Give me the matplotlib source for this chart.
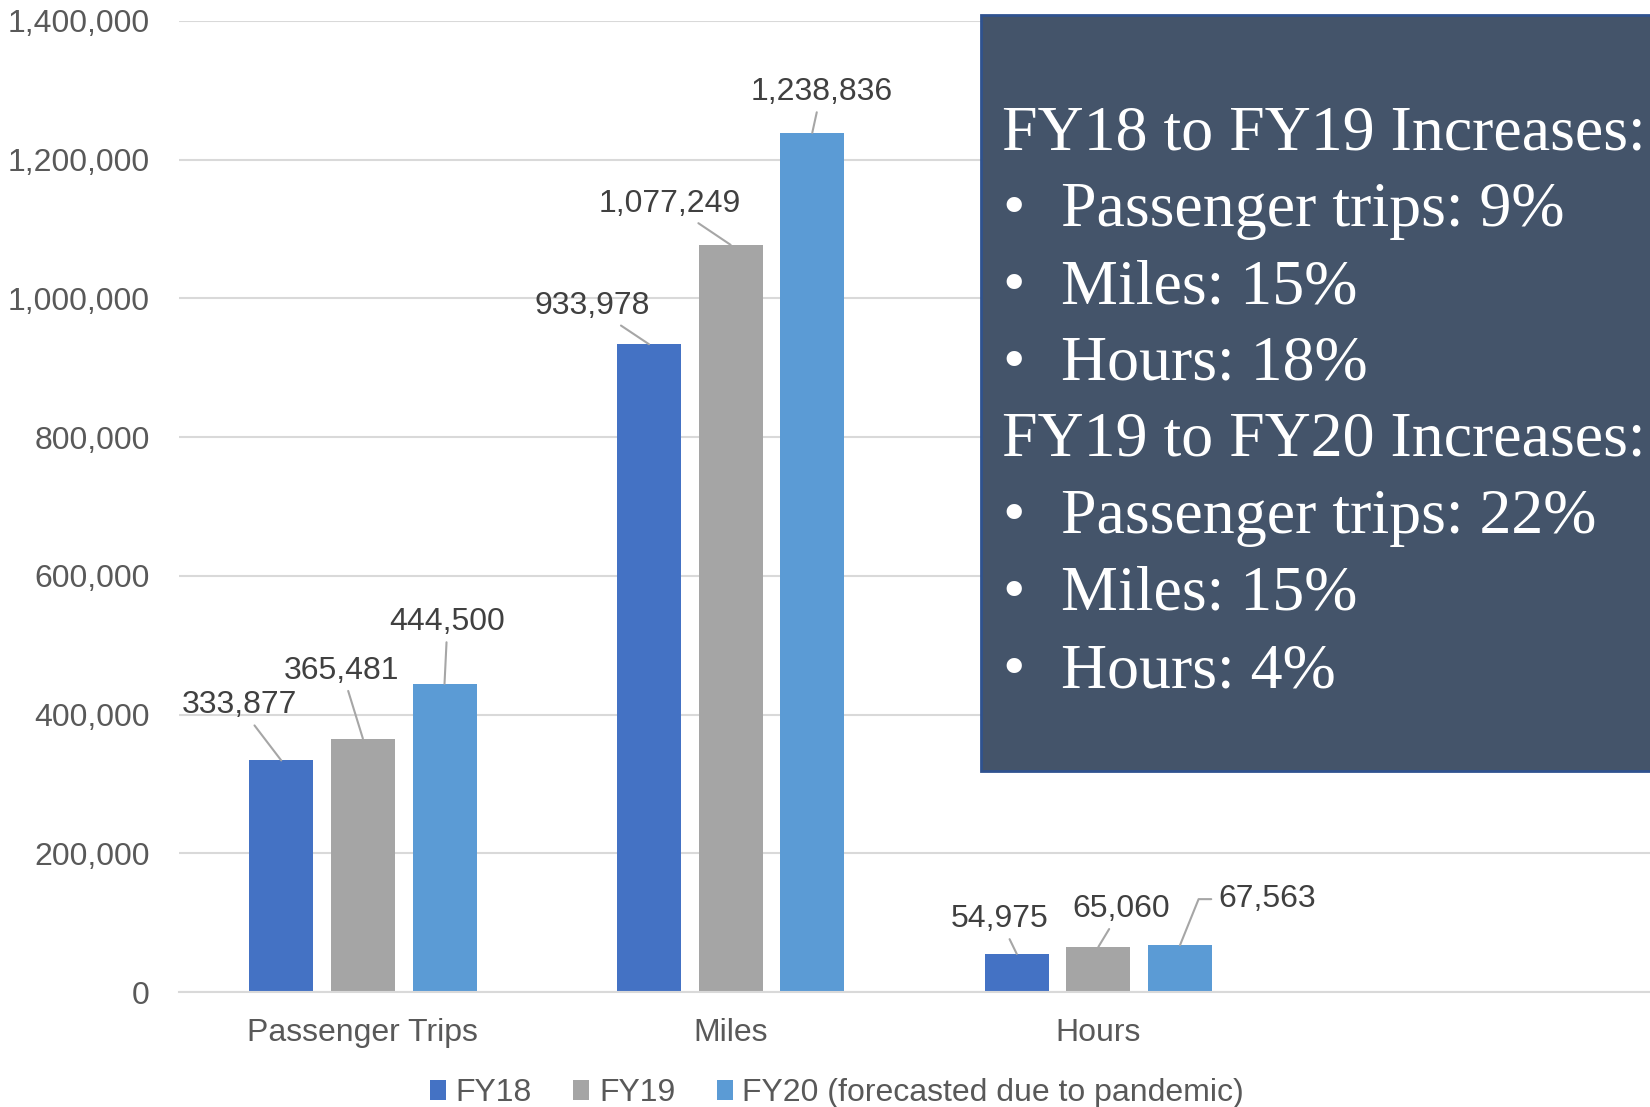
import matplotlib
matplotlib.use("Agg")
import matplotlib.pyplot as plt
from matplotlib.patches import Rectangle, Patch
from matplotlib.ticker import FuncFormatter

# data
categories = ["Passenger Trips", "Miles", "Hours"]
series_names = ["FY18", "FY19", "FY20 (forecasted due to pandemic)"]
fy18 = [333877, 933978, 54975]
fy19 = [365481, 1077249, 65060]
fy20 = [444500, 1238836, 67563]

box_lines = ["FY18 to FY19 Increases:",
             "Passenger trips: 9%", "Miles: 15%", "Hours: 18%",
             "FY19 to FY20 Increases:",
             "Passenger trips: 22%", "Miles: 15%", "Hours: 4%"]

colors = ["#4472C4", "#A5A5A5", "#5B9BD5"]

# label offsets in pixels (dx, dy) from bar top, per series/category
label_offsets = [
    [(-42, 55), (-57, 38), (-17, 35)],
    [(-21, 68), (-61, 41), (23, 38)],
    [(3, 62), (9, 41), (87, 46)],
]

W, H = 1650, 1107
fig = plt.figure(figsize=(W / 100, H / 100), dpi=100)
ax = fig.add_axes([179 / W, 1 - 992 / H, 1 - 179 / W, (992 - 21) / H])

series = [fy18, fy19, fy20]
step = 0.222
width = 0.174
for j, vals in enumerate(series):
    xs = [i + (j - 1) * step for i in range(len(categories))]
    ax.bar(xs, vals, width=width, color=colors[j], zorder=3)
    for i, (x, v) in enumerate(zip(xs, vals)):
        dx, dy = label_offsets[j][i]
        arrow = dict(arrowstyle="-", color="#A6A6A6", lw=1.5,
                     shrinkA=2, shrinkB=0)
        if dx > 60:
            # label pushed far right: elbow leader from its left side
            arrow.update(relpos=(0, 0.5), shrinkA=3,
                         connectionstyle="angle,angleA=0,angleB=68,rad=0")
        ax.annotate(f"{v:,}", xy=(x, v), xytext=(dx, dy),
                    textcoords="offset pixels", ha="center", va="center",
                    fontsize=23, color="#404040", family="Liberation Sans",
                    arrowprops=arrow, zorder=4)

ax.set_xlim(-0.5, 3.5)
ax.set_ylim(0, 1400000)
ax.set_yticks(range(0, 1400001, 200000))
ax.yaxis.set_major_formatter(FuncFormatter(lambda v, p: f"{int(v):,}"))
ax.set_xticks(range(len(categories)))
ax.set_xticklabels(categories)
ax.tick_params(axis="both", length=0, labelsize=23, labelcolor="#595959")
ax.tick_params(axis="y", pad=21)
ax.tick_params(axis="x", pad=19)
for lab in ax.get_xticklabels() + ax.get_yticklabels():
    lab.set_family("Liberation Sans")
for s in ["top", "right", "left"]:
    ax.spines[s].set_visible(False)
ax.spines["bottom"].set_color("#D9D9D9")
ax.spines["bottom"].set_linewidth(1.5)
ax.spines["bottom"].set_zorder(5)
ax.grid(axis="y", color="#D9D9D9", lw=1.5, zorder=0)

# text box
box = Rectangle((981 / W, 1 - 771 / H), 1.0, (771 - 15) / H,
                transform=fig.transFigure, facecolor="#44546A",
                edgecolor="#2F528F", lw=2, zorder=10)
fig.patches.append(box)
baselines = [149, 226, 303, 380, 456, 533, 610, 687]
for k, (txt, yb) in enumerate(zip(box_lines, baselines)):
    heading = k in (0, 4)
    if heading:
        fig.text(1002 / W, 1 - yb / H, txt, fontsize=46, color="white",
                 family="Liberation Serif", va="baseline", zorder=11)
    else:
        fig.text(1002 / W, 1 - yb / H, "\u2022", fontsize=46, color="white",
                 family="Liberation Serif", va="baseline", zorder=11)
        fig.text(1061 / W, 1 - yb / H, txt, fontsize=46, color="white",
                 family="Liberation Serif", va="baseline", zorder=11)

handles = [Patch(facecolor=c, edgecolor="none") for c in colors]
leg = fig.legend(handles, series_names, loc="center", ncol=3,
                 bbox_to_anchor=(837 / W, 1 - 1093 / H), frameon=False,
                 prop={"family": "Liberation Sans", "size": 23},
                 handlelength=0.5, handleheight=0.6, handletextpad=0.3,
                 columnspacing=1.3)
for t in leg.get_texts():
    t.set_color("#595959")

fig.savefig("out.png", dpi=100)
